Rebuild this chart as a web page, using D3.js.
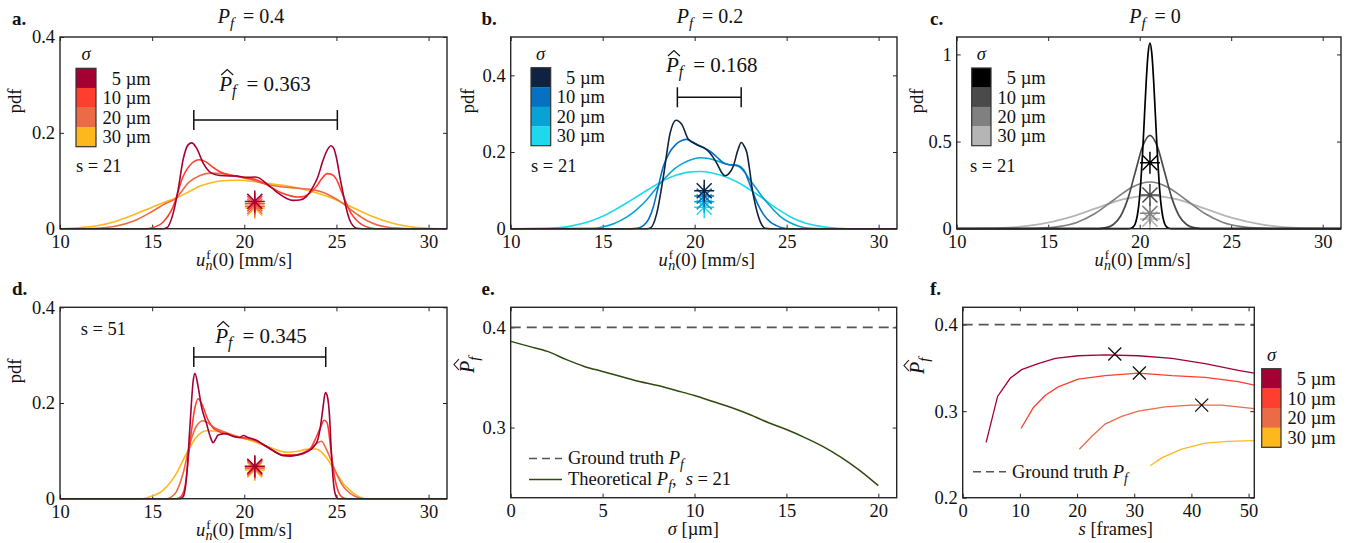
<!DOCTYPE html>
<html><head><meta charset="utf-8">
<script src="https://cdn.jsdelivr.net/npm/d3@7"></script>
<style>
body{margin:0;background:#fff}
svg{display:block}
text{font-family:"Liberation Serif","Times New Roman",serif;fill:#111}
</style>
</head><body>
<svg id="chart" width="1362" height="543" font-family="Liberation Serif"></svg>
<script>
// ---------------- DATA ----------------
const sigmaLabels = ["5 µm", "10 µm", "20 µm", "30 µm"];
const pdfXTicks = [10, 15, 20, 25, 30];
const abdYTicks = [0, 0.2, 0.4];
const cYTicks = [0, 0.5, 1];
const eXTicks = [0, 5, 10, 15, 20];
const eYTicks = [0.3, 0.4];
const fXTicks = [0, 10, 20, 30, 40, 50];
const fYTicks = [0.2, 0.3, 0.4];

// panel a (Pf = 0.4, s = 21)
const a5 = [[10,0],[15.6,0],[15.8,0.002],[16.14,0.032],[16.41,0.081],[16.68,0.144],[16.95,0.175],[17.15,0.179],[17.41,0.168],[17.77,0.137],[18.22,0.116],[18.67,0.111],[19.2,0.110],[19.58,0.110],[20.1,0.107],[20.6,0.108],[20.85,0.105],[21.02,0.100],[21.5,0.085],[21.92,0.072],[22.3,0.063],[22.65,0.059],[23.0,0.060],[23.37,0.067],[23.7,0.085],[24.0,0.109],[24.25,0.140],[24.45,0.160],[24.7,0.173],[24.85,0.168],[25.0,0.148],[25.2,0.105],[25.36,0.074],[25.55,0.040],[25.72,0.018],[25.9,0.006],[26.1,0.001],[26.4,0],[31,0]];
const a10 = [[10,0],[14.6,0],[15.0,0.002],[15.6,0.014],[16.14,0.046],[16.68,0.109],[17.14,0.136],[17.55,0.144],[17.9,0.140],[18.2,0.131],[18.67,0.119],[19.2,0.112],[19.76,0.108],[20.66,0.102],[21.1,0.094],[21.56,0.084],[22.0,0.075],[22.47,0.069],[22.9,0.066],[23.19,0.067],[23.6,0.076],[23.91,0.088],[24.2,0.104],[24.5,0.115],[24.75,0.113],[25.0,0.103],[25.25,0.080],[25.54,0.053],[25.8,0.032],[26.08,0.018],[26.4,0.008],[26.8,0.002],[27.2,0],[31,0]];
const a20 = [[10,0],[12,0.001],[13,0.005],[14,0.016],[15,0.036],[15.7,0.052],[16.3,0.064],[17.0,0.097],[17.6,0.111],[18.2,0.116],[18.8,0.115],[19.3,0.112],[19.8,0.108],[20.3,0.103],[20.8,0.097],[21.4,0.091],[22.1,0.087],[22.8,0.085],[23.4,0.083],[23.9,0.080],[24.4,0.074],[24.8,0.066],[25.3,0.054],[25.7,0.042],[26.2,0.028],[26.7,0.016],[27.2,0.008],[27.8,0.003],[28.5,0.001],[29.2,0],[31,0]];
const a30 = [[10,0],[11,0.002],[12,0.006],[13,0.015],[14,0.029],[15,0.045],[16,0.060],[16.3,0.064],[17,0.077],[17.6,0.089],[18.2,0.096],[18.8,0.100],[19.3,0.101],[19.8,0.101],[20.4,0.099],[21,0.096],[22,0.091],[23,0.084],[24,0.074],[25,0.060],[26,0.042],[27,0.025],[28,0.012],[29,0.004],[30,0.001],[31,0]];
const aStars = [0.043, 0.047, 0.052, 0.057];
const aStarX = 20.57;
const aHat = "0.363";
const aBracket = [17.26, 25.05, 0.227];

// panel b (Pf = 0.2, s = 21)
const b5 = [[10,0],[17.4,0],[17.6,0.002],[17.94,0.040],[18.3,0.136],[18.67,0.250],[18.99,0.283],[19.3,0.272],[19.66,0.233],[20.12,0.219],[20.66,0.206],[20.95,0.190],[21.2,0.171],[21.45,0.148],[21.65,0.138],[21.85,0.143],[22.1,0.163],[22.35,0.205],[22.53,0.225],[22.7,0.215],[22.84,0.198],[23.0,0.150],[23.11,0.110],[23.3,0.062],[23.47,0.031],[23.65,0.010],[23.83,0.001],[24.1,0],[31,0]];
const b10 = [[10,0],[16.5,0],[16.85,0.001],[17.21,0.008],[17.5,0.025],[17.76,0.058],[18.0,0.105],[18.3,0.163],[18.6,0.196],[18.94,0.218],[19.3,0.230],[19.57,0.233],[19.9,0.226],[20.3,0.215],[20.83,0.202],[21.2,0.187],[21.56,0.172],[21.9,0.167],[22.28,0.166],[22.5,0.161],[22.73,0.148],[22.95,0.122],[23.18,0.093],[23.45,0.062],[23.73,0.038],[24.1,0.018],[24.45,0.008],[24.8,0.002],[25.2,0],[31,0]];
const b20 = [[10,0],[14.5,0.001],[15.03,0.005],[15.6,0.013],[16.3,0.030],[16.85,0.050],[17.39,0.075],[17.9,0.105],[18.47,0.136],[18.9,0.156],[19.38,0.171],[19.8,0.180],[20.29,0.185],[20.75,0.183],[21.2,0.177],[21.6,0.170],[21.93,0.166],[22.2,0.165],[22.47,0.160],[22.75,0.145],[23.0,0.128],[23.35,0.105],[23.73,0.080],[24.2,0.054],[24.63,0.033],[25.17,0.016],[25.7,0.006],[26.3,0.001],[27,0],[31,0]];
const b30 = [[10,0],[12.0,0.001],[12.95,0.004],[13.77,0.012],[14.4,0.021],[15.03,0.033],[15.7,0.050],[16.3,0.067],[17.0,0.088],[17.75,0.110],[18.4,0.128],[19.02,0.140],[19.6,0.147],[20.29,0.149],[20.9,0.146],[21.38,0.140],[21.9,0.131],[22.47,0.118],[23.0,0.102],[23.56,0.084],[24.1,0.065],[24.65,0.047],[25.17,0.032],[25.6,0.022],[26.0,0.015],[26.6,0.008],[27.3,0.003],[28.3,0],[31,0]];
const bStars = [0.056, 0.070, 0.085, 0.099];
const bStarX = 20.52;
const bHat = "0.168";
const bBracket = [19.06, 22.53, 0.343];

// panel c (Pf = 0, s = 21)
const c5 = [[10,0],[19.36,0],[19.56,0.004],[19.66,0.012],[19.76,0.030],[19.86,0.070],[19.96,0.144],[20.06,0.267],[20.16,0.439],[20.26,0.646],[20.36,0.852],[20.46,1.007],[20.56,1.065],[20.66,1.007],[20.76,0.852],[20.86,0.646],[20.96,0.439],[21.06,0.267],[21.16,0.144],[21.26,0.070],[21.36,0.030],[21.46,0.012],[21.56,0.004],[21.76,0],[31,0]];
const c10 = [[10,0],[17.36,0],[17.76,0.001],[18.16,0.006],[18.56,0.024],[18.96,0.073],[19.36,0.174],[19.76,0.325],[20.16,0.473],[20.56,0.536],[20.96,0.473],[21.36,0.325],[21.76,0.174],[22.16,0.073],[22.56,0.024],[22.96,0.006],[23.36,0.001],[23.76,0],[31,0]];
const c20 = [[10,0],[12.56,0],[13.56,0.0005],[14.56,0.003],[15.56,0.012],[16.56,0.036],[17.56,0.087],[18.56,0.163],[19.56,0.237],[20.56,0.268],[21.56,0.237],[22.56,0.163],[23.56,0.087],[24.56,0.036],[25.56,0.012],[26.56,0.003],[27.56,0.0005],[28.56,0],[31,0]];
const c30 = [[10,0],[11.56,0.002],[13.06,0.008],[14.56,0.026],[16.06,0.062],[17.56,0.115],[19.06,0.168],[20.56,0.19],[22.06,0.168],[23.56,0.115],[25.06,0.062],[26.56,0.026],[28.06,0.008],[29.56,0.002],[31,0]];
const cStars = [0.055, 0.088, 0.193, 0.378];
const cStarX = 20.56;

// panel d (Pf = 0.4, s = 51)
const d5 = [[10,0],[16.5,0],[16.68,0.004],[16.87,0.046],[17.05,0.150],[17.23,0.247],[17.32,0.262],[17.5,0.233],[17.68,0.192],[17.95,0.157],[18.15,0.130],[18.31,0.117],[18.45,0.125],[18.58,0.133],[19.03,0.136],[19.4,0.130],[19.76,0.128],[19.95,0.132],[20.2,0.128],[20.66,0.122],[21.0,0.114],[21.38,0.105],[21.75,0.096],[22.1,0.090],[22.5,0.089],[22.83,0.091],[23.2,0.095],[23.55,0.101],[23.8,0.110],[24.0,0.125],[24.15,0.155],[24.27,0.190],[24.4,0.222],[24.5,0.215],[24.63,0.170],[24.72,0.100],[24.85,0.030],[24.95,0.008],[25.1,0],[31,0]];
const d10 = [[10,0],[16.3,0],[16.55,0.004],[16.78,0.025],[17.05,0.115],[17.32,0.190],[17.5,0.209],[17.68,0.199],[18.04,0.164],[18.3,0.148],[18.49,0.143],[19.21,0.133],[19.76,0.128],[20.2,0.127],[20.66,0.121],[21.38,0.105],[22.1,0.091],[22.83,0.091],[23.55,0.103],[23.91,0.129],[24.15,0.150],[24.33,0.164],[24.5,0.158],[24.72,0.095],[24.9,0.045],[25.1,0.015],[25.36,0.002],[25.6,0],[31,0]];
const d20 = [[10,0],[15.8,0],[16.05,0.004],[16.32,0.015],[16.68,0.053],[17.05,0.115],[17.41,0.152],[17.77,0.163],[18.05,0.158],[18.31,0.150],[19.03,0.138],[19.76,0.128],[20.66,0.120],[21.38,0.105],[22.1,0.092],[22.83,0.092],[23.55,0.104],[23.91,0.115],[24.18,0.120],[24.4,0.108],[24.55,0.095],[25.0,0.053],[25.3,0.030],[25.54,0.018],[26.0,0.005],[26.5,0],[31,0]];
const d30 = [[10,0],[14.5,0],[14.88,0.004],[15.6,0.018],[16.32,0.053],[16.87,0.095],[17.41,0.129],[17.95,0.142],[18.67,0.140],[19.76,0.129],[20.4,0.121],[21.02,0.112],[21.7,0.103],[22.29,0.097],[22.9,0.099],[23.37,0.103],[23.91,0.104],[24.2,0.097],[24.45,0.086],[25.0,0.053],[25.4,0.030],[25.72,0.018],[26.1,0.007],[26.6,0],[31,0]];
const dStars = [0.060, 0.063, 0.066, 0.068];
const dStarX = 20.57;
const dHat = "0.345";
const dBracket = [17.26, 24.42, 0.296];

// panel e
const eSigma = [0,1,2,3,4,5,6,7,8,9,10,11,12,13,14,15,16,17,18,19,20];
const ePf = [0.386,0.381,0.376,0.368,0.361,0.356,0.351,0.346,0.342,0.337,0.332,0.326,0.320,0.313,0.305,0.298,0.290,0.281,0.270,0.257,0.242];
const groundTruth = 0.4;

// panel f
const f5 = [[4.1,0.264],[6.1,0.317],[8.3,0.338],[10.3,0.348],[13.2,0.355],[16.2,0.361],[20.2,0.364],[24.9,0.365],[30.7,0.364],[36.6,0.361],[42.4,0.355],[48.2,0.347],[51,0.344]];
const f10 = [[10.2,0.280],[12.35,0.304],[14.4,0.318],[16.7,0.328],[20.2,0.337],[24.9,0.341],[30.7,0.344],[36.6,0.341],[42.4,0.339],[48.2,0.334],[51,0.330]];
const f20 = [[20.4,0.256],[22.6,0.271],[24.9,0.285],[27.8,0.294],[30.7,0.300],[35.4,0.305],[40,0.307],[45.3,0.307],[51,0.303]];
const f30 = [[32.8,0.237],[34.8,0.246],[38.3,0.256],[42.4,0.263],[46.4,0.265],[51,0.266]];
const fCrosses = [[26.6,0.366],[30.9,0.344],[41.8,0.307]];

// palettes
const reds = ["#a50034", "#fe3e2f", "#ec6b47", "#fdb81e"];
const blues = ["#0f2240", "#0670c2", "#08a3d4", "#1ed9ee"];
const greys = ["#000000", "#4a4a4a", "#808080", "#b5b5b5"];

// ---------------- DRAWING ----------------
const svg = d3.select("#chart");
const FS = 18.5;
const AX = "#262626";
const FONT = "Liberation Serif";

function setupPanel(box, xDom, yDom, xTicks, yTicks, yFmt) {
  const x = d3.scaleLinear().domain(xDom).range([box.l, box.r]);
  const y = d3.scaleLinear().domain(yDom).range([box.b, box.t]);
  const g = svg.append("g");
  const style = s => {
    s.attr("font-family", FONT);
    s.select(".domain").remove();
    s.selectAll("line").attr("stroke", AX).attr("stroke-width", 1);
    s.selectAll("text").attr("font-size", FS).attr("font-family", FONT).attr("fill", "#111");
  };
  g.append("g").attr("transform", `translate(0,${box.b})`)
    .call(d3.axisBottom(x).tickValues(xTicks).tickSize(-4).tickPadding(6).tickFormat(d3.format("d"))).call(style);
  g.append("g").attr("transform", `translate(0,${box.t})`)
    .call(d3.axisTop(x).tickValues(xTicks).tickSize(-4).tickFormat("")).call(style);
  g.append("g").attr("transform", `translate(${box.l},0)`)
    .call(d3.axisLeft(y).tickValues(yTicks).tickSize(-4).tickPadding(5).tickFormat(yFmt)).call(style);
  g.append("g").attr("transform", `translate(${box.r},0)`)
    .call(d3.axisRight(y).tickValues(yTicks).tickSize(-4).tickFormat("")).call(style);
  const plot = svg.append("g");
  svg.append("rect").attr("x", box.l).attr("y", box.t).attr("width", box.r - box.l).attr("height", box.b - box.t)
    .attr("fill", "none").attr("stroke", AX).attr("stroke-width", 1.4);
  return {x, y, plot};
}

const yf = d => d === 0 ? "0" : String(d);

function drawCurves(p, series, colors, width) {
  const line = d3.line().x(d => p.x(d[0])).y(d => p.y(d[1])).curve(d3.curveMonotoneX);
  for (let i = series.length - 1; i >= 0; i--) {
    p.plot.append("path").attr("d", line(series[i])).attr("fill", "none")
      .attr("stroke", colors[i]).attr("stroke-width", width || 1.6).attr("stroke-linejoin", "round");
  }
}

function asterisk(g, cx, cy, color, sw) {
  const path = "M0,-11V11M-10,0H10M-7.5,-7.5L7.5,7.5M-7.5,7.5L7.5,-7.5";
  g.append("path").attr("d", path).attr("transform", `translate(${cx},${cy})`)
    .attr("stroke", color).attr("stroke-width", sw || 1.5).attr("fill", "none");
}

function drawStars(p, xv, ys, colors) {
  for (let i = 0; i < ys.length; i++) {
    asterisk(p.plot, p.x(xv), p.y(ys[i]), colors[colors.length - 1 - i]);
  }
}

function colorbar(x, yTop, w, h, colors, labelRight, sigmaX) {
  const bh = h / colors.length;
  colors.forEach((c, i) => {
    svg.append("rect").attr("x", x).attr("y", yTop + i * bh).attr("width", w).attr("height", bh + 0.3).attr("fill", c);
    svg.append("text").attr("x", labelRight).attr("y", yTop + i * bh + bh / 2 + 6.5)
      .attr("text-anchor", "end").attr("font-size", FS).text(sigmaLabels[i]);
  });
  svg.append("rect").attr("x", x).attr("y", yTop).attr("width", w).attr("height", h)
    .attr("fill", "none").attr("stroke", "#333").attr("stroke-width", 1.2);
  svg.append("text").attr("x", sigmaX).attr("y", yTop - 8).attr("text-anchor", "middle")
    .attr("font-size", FS).attr("font-style", "italic").text("σ");
}

function pfText(t, size) {
  t.append("tspan").attr("font-style", "italic").text("P");
  t.append("tspan").attr("font-style", "italic").attr("font-size", size * 0.75).attr("dy", 5).text("f");
}

function title(cx, y, val) {
  const t = svg.append("text").attr("x", cx).attr("y", y).attr("text-anchor", "middle").attr("font-size", 20);
  pfText(t, 20);
  t.append("tspan").attr("dy", -5).attr("dx", 9).text("= " + val);
}

function hatAnnot(cx, y, val) {
  const t = svg.append("text").attr("x", cx).attr("y", y).attr("text-anchor", "middle").attr("font-size", 21);
  pfText(t, 21);
  t.append("tspan").attr("dy", -5).attr("dx", 10).text("= " + val);
  const bb = t.node().getBBox();
  const px = bb.x;
  svg.append("path").attr("d", `M${px + 3},${y - 16} L${px + 9},${y - 21.5} L${px + 15},${y - 16}`)
    .attr("fill", "none").attr("stroke", "#111").attr("stroke-width", 1.1);
}

function bracket(p, b) {
  const x1 = p.x(b[0]), x2 = p.x(b[1]), yy = p.y(b[2]);
  p.plot.append("path").attr("d", `M${x1},${yy - 10}V${yy + 10}M${x1},${yy}H${x2}M${x2},${yy - 10}V${yy + 10}`)
    .attr("stroke", "#111").attr("stroke-width", 1.5).attr("fill", "none");
}

function panelLabel(x, y, s) {
  svg.append("text").attr("x", x).attr("y", y).attr("font-size", 19).attr("font-weight", "bold").text(s);
}

function xLabelU(cx, y) {
  const t = svg.append("text").attr("x", cx).attr("y", y).attr("text-anchor", "middle").attr("font-size", FS);
  t.append("tspan").attr("font-style", "italic").text("u");
  t.append("tspan").attr("font-size", 13).attr("dy", -7).attr("dx", 1).text("f");
  t.append("tspan").attr("font-size", 14).attr("font-style", "italic").attr("dy", 11).attr("dx", -5).text("n");
  t.append("tspan").attr("dy", -4).text("(0) [mm/s]");
}

function yLabelText(x, cy, s) {
  svg.append("text").attr("transform", `translate(${x},${cy}) rotate(-90)`).attr("text-anchor", "middle")
    .attr("font-size", FS).text(s);
}

function yLabelPf(x, cy) {
  const g = svg.append("g").attr("transform", `translate(${x},${cy}) rotate(-90)`);
  const t = g.append("text").attr("x", -6).attr("y", 0).attr("font-size", 20);
  t.append("tspan").attr("font-style", "italic").text("P");
  t.append("tspan").attr("font-style", "italic").attr("font-size", 15).attr("dy", 5).text("f");
  g.append("path").attr("d", "M-3,-15 L2.5,-20 L8,-15").attr("fill", "none").attr("stroke", "#111").attr("stroke-width", 1.1);
}

// ---- panel a ----
const boxA = {l: 60, r: 447, t: 37, b: 228.7};
const pa = setupPanel(boxA, [10, 31], [0, 0.4], pdfXTicks, abdYTicks, yf);
drawCurves(pa, [a5, a10, a20, a30], reds);
drawStars(pa, aStarX, aStars, reds);
bracket(pa, aBracket);
hatAnnot(265, 91, aHat);
colorbar(76, 68.3, 20, 78.4, reds, 150.7, 86);
svg.append("text").attr("x", 76).attr("y", 171.5).attr("font-size", FS).text("s = 21");
title(251, 23, "0.4");
panelLabel(12, 25, "a.");
xLabelU(244, 266);
yLabelText(21, 101, "pdf");

// ---- panel b ----
const boxB = {l: 510.7, r: 897, t: 37, b: 228.7};
const pb = setupPanel(boxB, [10, 31], [0, 0.5], pdfXTicks, abdYTicks, yf);
drawCurves(pb, [b5, b10, b20, b30], blues);
drawStars(pb, bStarX, bStars, blues);
bracket(pb, bBracket);
hatAnnot(711.7, 72, bHat);
colorbar(531, 67.7, 19.7, 78, blues, 605, 540.5);
svg.append("text").attr("x", 531).attr("y", 171.5).attr("font-size", FS).text("s = 21");
title(710, 23, "0.2");
panelLabel(481.5, 25, "b.");
xLabelU(706.7, 266);
yLabelText(474, 101, "pdf");

// ---- panel c ----
const boxC = {l: 956.7, r: 1341, t: 37, b: 228.7};
const pc = setupPanel(boxC, [10, 31], [0, 1.1], pdfXTicks, cYTicks, yf);
drawCurves(pc, [c5, c10, c20, c30], greys, 1.7);
drawStars(pc, cStarX, cStars, greys);
colorbar(971.7, 68, 19.3, 77.7, greys, 1045.7, 981.3);
svg.append("text").attr("x", 970).attr("y", 172).attr("font-size", FS).text("s = 21");
title(1155, 23, "0");
panelLabel(930, 25, "c.");
xLabelU(1142.5, 266);
yLabelText(923, 101, "pdf");

// ---- panel d ----
const boxD = {l: 60, r: 447, t: 307.3, b: 498.7};
const pd = setupPanel(boxD, [10, 31], [0, 0.4], pdfXTicks, abdYTicks, yf);
drawCurves(pd, [d5, d10, d20, d30], reds);
drawStars(pd, dStarX, dStars, reds);
bracket(pd, dBracket);
hatAnnot(261, 343, dHat);
svg.append("text").attr("x", 80.7).attr("y", 335).attr("font-size", FS).text("s = 51");
panelLabel(12, 295, "d.");
xLabelU(244, 536);
yLabelText(21, 371, "pdf");

// ---- panel e ----
const boxE = {l: 510.7, r: 896.7, t: 307.3, b: 497.7};
const pe = setupPanel(boxE, [0, 21], [0.23, 0.42], eXTicks, eYTicks, d => d.toFixed(1));
pe.plot.append("line").attr("x1", pe.x(0)).attr("x2", pe.x(21)).attr("y1", pe.y(groundTruth)).attr("y2", pe.y(groundTruth))
  .attr("stroke", "#555").attr("stroke-width", 1.6).attr("stroke-dasharray", "10,6");
const eLine = d3.line().x((d, i) => pe.x(eSigma[i])).y(d => pe.y(d)).curve(d3.curveMonotoneX);
pe.plot.append("path").attr("d", eLine(ePf)).attr("fill", "none").attr("stroke", "#31490f").attr("stroke-width", 1.5);
svg.append("line").attr("x1", 529).attr("x2", 562).attr("y1", 458.5).attr("y2", 458.5).attr("stroke", "#555").attr("stroke-width", 1.5).attr("stroke-dasharray", "8,5");
{
  const t = svg.append("text").attr("x", 568).attr("y", 464).attr("font-size", FS);
  t.append("tspan").text("Ground truth ");
  pfText(t, FS);
}
svg.append("line").attr("x1", 529).attr("x2", 562).attr("y1", 479.5).attr("y2", 479.5).attr("stroke", "#31490f").attr("stroke-width", 1.5);
{
  const t = svg.append("text").attr("x", 568).attr("y", 485).attr("font-size", FS);
  t.append("tspan").text("Theoretical ");
  pfText(t, FS);
  t.append("tspan").attr("dy", -5).text(",");
  t.append("tspan").attr("dx", 9).attr("font-style", "italic").text("s");
  t.append("tspan").text(" = 21");
}
panelLabel(481.5, 295, "e.");
svg.append("text").attr("x", 693.3).attr("y", 535).attr("text-anchor", "middle").attr("font-size", FS)
  .call(t => { t.append("tspan").attr("font-style", "italic").text("σ"); t.append("tspan").text(" [µm]"); });
yLabelPf(474, 367);

// ---- panel f ----
const boxF = {l: 962.7, r: 1254.3, t: 307.3, b: 497.7};
const pf = setupPanel(boxF, [0, 51], [0.2, 0.42], fXTicks, fYTicks, d => d.toFixed(1));
pf.plot.append("line").attr("x1", pf.x(0)).attr("x2", pf.x(51)).attr("y1", pf.y(groundTruth)).attr("y2", pf.y(groundTruth))
  .attr("stroke", "#555").attr("stroke-width", 1.6).attr("stroke-dasharray", "10,6");
const fLine = d3.line().x(d => pf.x(d[0])).y(d => pf.y(d[1]));
[f5, f10, f20, f30].forEach((s, i) => {
  pf.plot.append("path").attr("d", fLine(s)).attr("fill", "none").attr("stroke", reds[i]).attr("stroke-width", 1.3);
});
fCrosses.forEach(c => {
  const cx = pf.x(c[0]), cy = pf.y(c[1]);
  pf.plot.append("path").attr("d", `M${cx - 6.5},${cy - 6.5}L${cx + 6.5},${cy + 6.5}M${cx - 6.5},${cy + 6.5}L${cx + 6.5},${cy - 6.5}`)
    .attr("stroke", "#111").attr("stroke-width", 1.3);
});
svg.append("line").attr("x1", 973).attr("x2", 1006).attr("y1", 471.7).attr("y2", 471.7).attr("stroke", "#555").attr("stroke-width", 1.5).attr("stroke-dasharray", "8,5");
{
  const t = svg.append("text").attr("x", 1012).attr("y", 477.5).attr("font-size", FS);
  t.append("tspan").text("Ground truth ");
  pfText(t, FS);
}
colorbar(1261.7, 368.7, 19.3, 78.6, reds, 1335.7, 1271.5);
panelLabel(930, 295, "f.");
svg.append("text").attr("x", 1115.8).attr("y", 535).attr("text-anchor", "middle").attr("font-size", FS)
  .call(t => { t.append("tspan").attr("font-style", "italic").text("s"); t.append("tspan").text(" [frames]"); });
yLabelPf(924, 368);
</script>
</body></html>
